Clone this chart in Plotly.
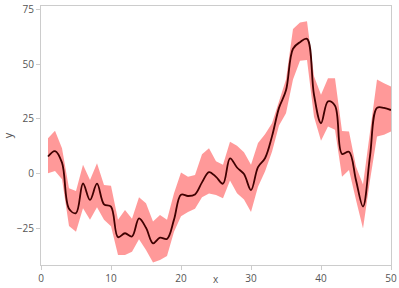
import plotly.graph_objects as go

x = list(range(1, 51))
mean = [7.8, 10.3, 5.0, -16.0, -18.0, -4.5, -12.0, -4.6, -14.0, -15.1,
        -29.0, -27.2, -28.7, -20.4, -24.7, -31.8, -29.2, -29.8, -21.0, -9.6,
        -10.2, -9.5, -4.0, 0.7, -1.5, -4.6, 7.0, 2.8, -0.2, -7.5,
        3.0, 7.0, 17.0, 30.0, 38.0, 57.0, 60.0, 61.5, 36.0, 23.0,
        33.0, 31.0, 9.0, 10.0, -3.0, -15.0, 8.0, 30.0, 30.0, 29.0]
upper = [16.2, 19.6, 11.6, -6.7, -7.9, 4.0, -2.9, 4.7, -5.2, -5.5,
         -21.1, -16.6, -20.6, -10.8, -13.5, -21.9, -18.9, -21.1, -9.0, 0.5,
         -1.4, -0.6, 8.8, 11.6, 5.6, 4.0, 14.6, 12.7, 9.8, 4.0,
         14.0, 18.0, 23.0, 33.0, 43.0, 66.0, 69.0, 69.5, 44.4, 36.0,
         43.5, 43.5, 19.5, 19.2, 3.2, -5.0, 19.0, 43.0, 41.3, 39.8]
lower = [0.2, 1.2, -2.6, -23.9, -26.5, -15.8, -21.1, -15.4, -21.1, -24.0,
         -37.1, -37.1, -35.6, -30.0, -34.8, -40.6, -39.4, -37.6, -26.5, -19.5,
         -17.5, -16.0, -10.8, -9.1, -9.7, -11.2, -3.1, -9.0, -11.8, -17.5,
         -6.0, 1.0, 10.0, 22.0, 27.5, 43.0, 51.5, 51.8, 26.0, 15.0,
         21.5, 20.0, -1.4, 1.7, -12.0, -25.0, -3.0, 17.0, 17.7, 19.2]

fig = go.Figure()
fig.add_trace(go.Scatter(x=x, y=lower, mode="lines", line=dict(width=0),
                         showlegend=False, hoverinfo="skip"))
fig.add_trace(go.Scatter(x=x, y=upper, mode="lines", line=dict(width=0),
                         fill="tonexty", fillcolor="rgba(255,0,0,0.4)",
                         showlegend=False, hoverinfo="skip"))
fig.add_trace(go.Scatter(x=x, y=mean, mode="lines",
                         line=dict(color="#3f0000", width=1.8, shape="spline"),
                         showlegend=False))

axis_common = dict(showline=True, linecolor="#cccccc", linewidth=1, mirror=True,
                   ticks="outside", tickcolor="#cccccc", ticklen=4,
                   showgrid=False, zeroline=False, automargin=False,
                   tickfont=dict(family="Open Sans", size=10, color="#555"),
                   title_font=dict(family="Open Sans", size=11, color="#555"))

fig.update_layout(
    width=399, height=288,
    margin=dict(l=41, r=8, t=6, b=23),
    plot_bgcolor="white", paper_bgcolor="white",
    xaxis=dict(range=[0, 50], dtick=10, **axis_common),
    yaxis=dict(range=[-41.7, 76.5], dtick=25, title=dict(text="y", standoff=12), **axis_common),
)
fig.add_annotation(text="x", xref="paper", yref="paper", x=0.5, y=0,
                   yshift=-14, yanchor="middle", showarrow=False,
                   font=dict(family="Open Sans", size=10, color="#555"))

fig.write_html("out.html")
